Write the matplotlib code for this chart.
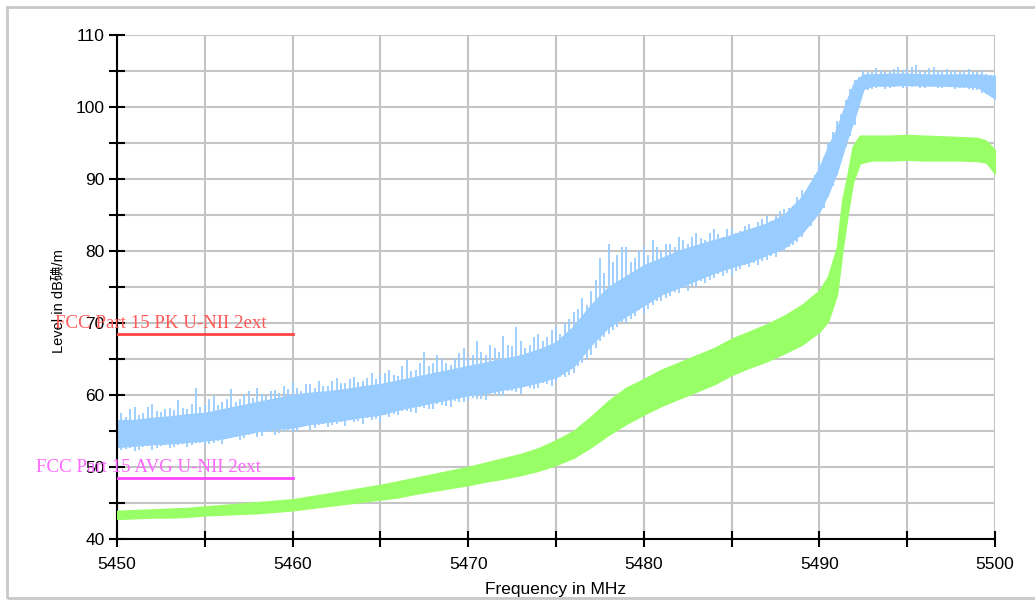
#!/usr/bin/env python3
"""
Band-edge emission plot: peak and average traces with FCC limit lines
"""

import numpy as np
import matplotlib
matplotlib.use('Agg')
import matplotlib.pyplot as plt
from matplotlib.patches import Rectangle

# ---- data ----
# peak trace (blue): dense band lower / upper edge
pk_freq = [5450, 5451, 5452, 5453, 5454, 5455, 5456, 5457, 5458, 5459,
           5460, 5461, 5462, 5463, 5464, 5465, 5466, 5467, 5468, 5469,
           5470, 5471, 5472, 5473, 5474, 5475, 5476, 5477, 5478, 5479,
           5480, 5481, 5482, 5483, 5484, 5485, 5486, 5487, 5488, 5489,
           5490, 5490.5, 5491, 5491.5, 5492, 5492.5, 5493, 5494, 5495, 5496,
           5497, 5498, 5499, 5500]
pk_low = [52.8, 53.0, 53.2, 53.3, 53.5, 53.7, 54.0, 54.5, 55.0, 55.3,
          55.5, 56.0, 56.3, 56.6, 57.0, 57.3, 58.0, 58.5, 59.0, 59.5,
          60.0, 60.3, 60.8, 61.2, 61.8, 62.5, 64.0, 67.0, 69.5, 71.0,
          72.5, 74.0, 75.0, 76.0, 77.0, 77.8, 78.5, 79.5, 80.5, 82.5,
          85.5, 88.0, 91.0, 95.0, 98.5, 102.5, 103.0, 103.0, 103.1, 103.0,
          103.0, 102.9, 102.8, 101.2]
pk_high = [56.5, 56.5, 56.8, 57.0, 57.3, 57.5, 58.0, 58.5, 59.0, 59.5,
           60.0, 60.3, 60.5, 60.8, 61.2, 61.5, 62.0, 62.5, 63.0, 63.5,
           64.0, 64.5, 65.0, 65.5, 66.3, 67.3, 69.5, 72.5, 75.0, 76.5,
           78.0, 79.0, 80.0, 80.8, 81.5, 82.2, 83.0, 83.8, 85.0, 87.5,
           91.5, 94.5, 97.0, 100.5, 103.5, 104.5, 104.5, 104.6, 104.6, 104.5,
           104.5, 104.5, 104.5, 104.3]

# peak trace spikes, on the whole MHz and half MHz (5450.0 ... 5500.0)
spike_freq_a = np.arange(5450.0, 5500.25, 0.5)
spike_high_a = [58.0, 57.0, 58.3, 57.5, 58.8, 57.6, 58.2, 59.3, 58.0, 61.0,
                58.6, 59.8, 59.0, 60.8, 59.5, 60.5, 61.0, 59.8, 60.7, 61.2,
                61.8, 60.5, 61.5, 62.0, 61.3, 62.3, 61.6, 62.5, 62.0, 63.0,
                62.8, 63.5, 62.6, 64.8, 63.5, 66.0, 64.5, 65.0, 64.2, 65.8,
                65.2, 67.5, 65.5, 66.5, 68.2, 66.8, 67.5, 67.0, 68.5, 68.0,
                69.5, 70.0, 71.5, 73.5, 74.5, 79.0, 81.0, 79.5, 80.5, 79.0,
                80.5, 81.5, 80.0, 81.0, 82.0, 81.0, 82.5, 81.5, 83.0, 82.0,
                83.2, 82.8, 83.8, 84.0, 84.8, 85.0, 85.8, 86.2, 88.5, 89.5,
                92.5, 95.0, 98.0, 101.0, 103.8, 105.0, 104.8, 105.2, 105.0, 105.6,
                105.3, 105.8, 105.0, 105.5, 105.2, 105.0, 104.9, 105.3, 104.8, 104.6,
                104.6]
spike_low_a = [51.8, 52.5, 52.2, 52.8, 52.4, 52.9, 52.6, 53.0, 52.8, 53.3,
               53.0, 53.4, 53.2, 54.0, 53.8, 54.4, 54.2, 54.8, 54.5, 55.0,
               54.8, 55.5, 55.2, 55.8, 55.6, 56.0, 55.7, 56.3, 56.0, 56.5,
               56.3, 57.0, 57.2, 57.8, 57.5, 58.2, 58.0, 58.6, 58.4, 59.0,
               59.2, 59.5, 59.3, 60.0, 59.8, 60.5, 60.2, 61.0, 61.0, 61.5,
               61.8, 62.5, 63.0, 64.5, 65.5, 67.5, 68.5, 69.5, 70.0, 71.0,
               71.3, 72.5, 73.0, 73.8, 74.2, 74.5, 75.2, 75.5, 76.2, 76.5,
               76.5, 77.5, 77.8, 78.0, 78.8, 79.2, 80.0, 80.8, 82.0, 83.5,
               85.0, 87.5, 90.5, 94.5, 97.5, 102.0, 102.5, 102.8, 102.6, 102.9,
               102.7, 102.9, 102.6, 102.8, 102.7, 102.9, 102.6, 102.5, 102.3, 101.8,
               101.0]

# peak trace spikes, on the quarter MHz (5450.25 ... 5499.75)
spike_freq_b = np.arange(5450.25, 5500.0, 0.5)
spike_high_b = [57.5, 58.0, 57.2, 58.4, 57.8, 58.0, 57.9, 58.2, 58.7, 58.4,
                59.5, 58.6, 59.4, 59.0, 60.2, 59.6, 60.1, 60.6, 60.3, 60.8,
                61.0, 61.5, 61.0, 61.3, 62.0, 61.6, 62.2, 61.8, 62.4, 62.2,
                63.0, 62.8, 64.0, 63.3, 64.5, 64.0, 65.5, 64.5, 65.0, 66.5,
                65.5, 66.0, 67.0, 66.0, 67.0, 69.5, 66.5, 68.0, 67.5, 69.0,
                68.5, 70.5, 72.0, 72.5, 76.0, 77.0, 78.5, 80.5, 78.5, 80.0,
                79.5, 80.5, 81.0, 80.5, 81.5, 82.0, 81.8, 82.5, 82.3, 83.0,
                82.5, 83.5, 83.2, 84.5, 84.2, 85.5, 86.0, 87.5, 88.0, 90.5,
                93.0, 96.5, 99.0, 102.5, 104.2, 104.8, 105.4, 104.9, 105.3, 105.1,
                105.5, 105.2, 105.4, 105.0, 105.3, 105.1, 105.0, 104.9, 105.0, 104.4]
spike_low_b = [52.3, 52.6, 52.4, 52.9, 52.7, 53.1, 52.8, 53.2, 53.0, 53.4,
               53.2, 53.6, 53.9, 54.2, 54.0, 54.6, 54.3, 54.9, 54.7, 55.2,
               55.0, 55.7, 55.4, 56.0, 55.8, 56.2, 56.5, 56.4, 56.8, 56.7,
               57.2, 57.4, 57.8, 57.6, 58.3, 58.1, 58.7, 58.5, 59.2, 59.0,
               59.6, 59.4, 60.2, 60.0, 60.6, 60.4, 61.2, 60.8, 61.7, 61.3,
               62.5, 62.8, 64.0, 65.0, 66.5, 68.0, 69.0, 70.2, 70.5, 71.8,
               72.0, 73.0, 73.5, 74.3, 74.8, 75.2, 75.8, 76.0, 76.8, 77.0,
               77.2, 78.0, 78.3, 78.6, 79.3, 79.8, 80.5, 81.3, 83.0, 84.5,
               86.0, 89.0, 92.5, 96.0, 100.0, 102.3, 102.7, 102.5, 102.8, 102.6,
               102.8, 102.7, 102.9, 102.6, 102.8, 102.5, 102.7, 102.4, 102.0, 101.5]

# average trace (green): band lower / upper edge
av_freq = [5450, 5451, 5452, 5453, 5454, 5455, 5456, 5457, 5458, 5459,
           5460, 5461, 5462, 5463, 5464, 5465, 5466, 5467, 5468, 5469,
           5470, 5471, 5472, 5473, 5474, 5475, 5476, 5477, 5478, 5479,
           5480, 5481, 5482, 5483, 5484, 5485, 5486, 5487, 5488, 5489,
           5490, 5490.5, 5491, 5491.3, 5491.6, 5491.9, 5492.3, 5493, 5494, 5495,
           5496, 5497, 5498, 5499, 5499.5, 5500]
av_low = [42.8, 42.9, 43.0, 43.0, 43.1, 43.3, 43.4, 43.5, 43.6, 43.8,
          44.0, 44.3, 44.6, 44.9, 45.2, 45.5, 45.8, 46.3, 46.7, 47.1,
          47.5, 48.0, 48.4, 48.9, 49.5, 50.3, 51.3, 52.8, 54.5, 56.0,
          57.3, 58.5, 59.5, 60.5, 61.5, 62.8, 63.8, 64.7, 65.8, 67.0,
          68.8, 70.3, 74.0, 80.0, 85.0, 89.5, 92.2, 92.6, 92.6, 92.7,
          92.6, 92.6, 92.6, 92.5, 92.3, 90.8]
av_high = [43.9, 44.0, 44.1, 44.2, 44.3, 44.5, 44.7, 44.9, 45.1, 45.3,
           45.5, 45.9, 46.3, 46.7, 47.1, 47.5, 48.0, 48.5, 49.0, 49.5,
           50.0, 50.6, 51.2, 51.8, 52.6, 53.7, 55.0, 57.0, 59.2, 61.0,
           62.2, 63.5, 64.5, 65.5, 66.5, 67.8, 68.8, 69.8, 71.0, 72.5,
           74.5, 76.5, 80.5, 87.0, 90.5, 94.5, 96.0, 96.0, 96.0, 96.1,
           96.0, 95.9, 95.8, 95.7, 95.3, 94.0]

# limit lines
limit_freq = [5450, 5460]
pk_limit = [68.5, 68.5]
av_limit = [48.5, 48.5]
pk_limit_label = 'FCC Part 15 PK U-NII 2ext'
av_limit_label = 'FCC Part 15 AVG U-NII 2ext'

x_ticks = [5450, 5460, 5470, 5480, 5490, 5500]
y_ticks = [40, 50, 60, 70, 80, 90, 100, 110]

BLUE = '#99ccff'
GREEN = '#99ff66'


def main():
    fig = plt.figure(figsize=(10.35, 6.02), dpi=100)
    fig.patch.set_facecolor('white')

    # light frame around the whole picture
    fig.patches.append(Rectangle((7 / 1035, 4 / 602), 1.02, 591 / 602,
                                 transform=fig.transFigure, fill=False,
                                 edgecolor='#c8c8c8', linewidth=2.0))

    ax = fig.add_axes([117 / 1035, 1 - 539 / 602, 878 / 1035, 504 / 602])
    ax.set_xlim(5450, 5500)
    ax.set_ylim(40, 110)

    # Grid every 5 units
    ax.set_xticks(x_ticks)
    ax.set_yticks(y_ticks)
    ax.set_xticks(np.arange(5450, 5501, 5), minor=True)
    ax.set_yticks(np.arange(40, 111, 5), minor=True)
    ax.grid(True, which='both', color='#c4c4c4', linewidth=1.5)
    ax.set_axisbelow(True)

    # Peak trace
    ax.fill_between(pk_freq, pk_low, pk_high, color=BLUE, linewidth=1.2,
                    edgecolor=BLUE, zorder=2)
    ax.vlines(spike_freq_a, spike_low_a, spike_high_a, color=BLUE,
              linewidth=1.3, zorder=2)
    ax.vlines(spike_freq_b, spike_low_b, spike_high_b, color=BLUE,
              linewidth=1.3, zorder=2)

    # Average trace
    ax.fill_between(av_freq, av_low, av_high, color=GREEN, linewidth=1.2,
                    edgecolor=GREEN, zorder=3)

    # Limit lines
    ax.plot(limit_freq, pk_limit, color='#ff4444', linewidth=2.0, zorder=4)
    ax.plot(limit_freq, av_limit, color='#ff44ff', linewidth=2.0, zorder=4)
    ax.text(5458.5, pk_limit[0] + 0.3, pk_limit_label, color='#ff5a5a',
            fontsize=13.6, family='Liberation Serif', ha='right', va='bottom',
            zorder=5, clip_on=False)
    ax.text(5458.2, av_limit[0] + 0.3, av_limit_label, color='#ff66ff',
            fontsize=13.6, family='Liberation Serif', ha='right', va='bottom',
            zorder=5, clip_on=False)

    # Spines: only left and bottom in black
    for side in ('top', 'right'):
        ax.spines[side].set_visible(False)
    for side in ('left', 'bottom'):
        ax.spines[side].set_color('black')
        ax.spines[side].set_linewidth(1.5)

    ax.tick_params(which='both', direction='inout', length=12, width=1.5,
                   color='black', labelsize=12.5)
    ax.tick_params(axis='x', pad=7)
    ax.tick_params(axis='y', pad=3)
    for lab in ax.get_xticklabels() + ax.get_yticklabels():
        lab.set_family('Liberation Sans')

    ax.set_xlabel('Frequency in MHz', fontsize=12.5, family='Liberation Sans')
    ax.xaxis.set_label_coords(0.499, -0.085)
    ax.set_ylabel('Level in dB碘/m', fontsize=10.5,
                  family=['Liberation Sans', 'Noto Sans CJK SC'])
    ax.yaxis.set_label_coords(-0.059, 0.472)

    fig.savefig('out.png', dpi=100, facecolor='white')
    plt.close(fig)


if __name__ == '__main__':
    main()
